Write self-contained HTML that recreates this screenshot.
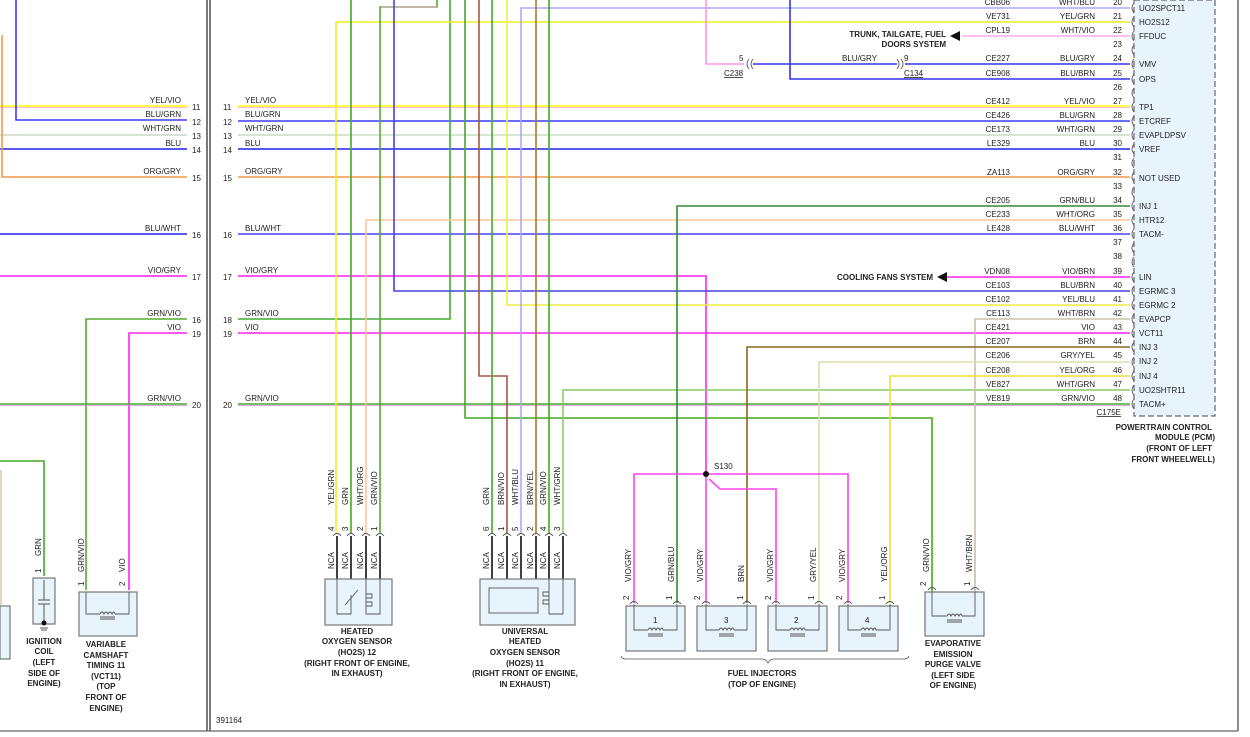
<!DOCTYPE html>
<html><head><meta charset="utf-8"><style>
html,body{margin:0;padding:0;background:#fff;}
svg{display:block;}
text{font-family:"Liberation Sans",sans-serif;font-size:8px;fill:#222;}
.b{font-weight:bold;font-size:8px;}
.w{fill:none;stroke-width:1.6;}
.c{fill:none;stroke:#555;stroke-width:0.9;}
.box{fill:#e8f4fb;stroke:#777;stroke-width:1.2;}
</style></head><body>
<svg width="1250" height="737" viewBox="0 0 1250 737" xmlns="http://www.w3.org/2000/svg">
<!-- frame -->
<line x1="207" y1="0" x2="207" y2="731" stroke="#222" stroke-width="1.2"/>
<line x1="210" y1="0" x2="210" y2="731" stroke="#222" stroke-width="1.2"/>
<line x1="1238" y1="0" x2="1238" y2="731" stroke="#444" stroke-width="1.2"/>
<line x1="0" y1="731" x2="1238" y2="731" stroke="#666" stroke-width="1.2"/>

<!-- PCM box -->
<rect x="1134" y="0" width="81" height="416" fill="#e8f4fc" stroke="#666" stroke-width="1.2" stroke-dasharray="6,3"/>

<!-- LEFT PANE wires -->
<g class="w">
<path d="M0 106H187" stroke="#ffff00"/><path d="M0 107.5H187" stroke="#ff9fd0" stroke-width="0.8"/>
<path d="M16 0V120H187" stroke="#3a3aff"/>
<path d="M0 135H187" stroke="#c8d8c8"/>
<path d="M0 149H187" stroke="#2222ee"/>
<path d="M2 35V177H187" stroke="#f39a4a"/>
<path d="M0 234H187" stroke="#2222ee"/>
<path d="M0 276H187" stroke="#ff22ee"/>
<path d="M187 319H86V590" stroke="#55aa33"/>
<path d="M187 333H129V590" stroke="#ff22ee"/>
<path d="M0 404H187" stroke="#44aa33"/><path d="M0 405.5H187" stroke="#dd88cc" stroke-width="0.7"/>
<path d="M0 461H44V576" stroke="#44aa22"/>
<path d="M1 470V605" stroke="#d8ccaa"/>
</g>
<g text-anchor="end">
<text x="181" y="103">YEL/VIO</text><text x="181" y="117">BLU/GRN</text><text x="181" y="131">WHT/GRN</text><text x="181" y="146">BLU</text><text x="181" y="174">ORG/GRY</text><text x="181" y="231">BLU/WHT</text><text x="181" y="273">VIO/GRY</text><text x="181" y="316">GRN/VIO</text><text x="181" y="330">VIO</text><text x="181" y="401">GRN/VIO</text>
</g>
<g><text x="192" y="110">11</text><text x="192" y="125">12</text><text x="192" y="139">13</text><text x="192" y="153">14</text><text x="192" y="181">15</text><text x="192" y="238">16</text><text x="192" y="280">17</text><text x="192" y="323">16</text><text x="192" y="337">19</text><text x="192" y="408">20</text>
<text x="223" y="110">11</text><text x="223" y="125">12</text><text x="223" y="139">13</text><text x="223" y="153">14</text><text x="223" y="181">15</text><text x="223" y="238">16</text><text x="223" y="280">17</text><text x="223" y="323">18</text><text x="223" y="337">19</text><text x="223" y="408">20</text>
<text x="245" y="103">YEL/VIO</text><text x="245" y="117">BLU/GRN</text><text x="245" y="131">WHT/GRN</text><text x="245" y="146">BLU</text><text x="245" y="174">ORG/GRY</text><text x="245" y="231">BLU/WHT</text><text x="245" y="273">VIO/GRY</text><text x="245" y="316">GRN/VIO</text><text x="245" y="330">VIO</text><text x="245" y="401">GRN/VIO</text>
<text x="216" y="723">391164</text></g>

<!-- left components -->
<rect class="box" x="0" y="606" width="10" height="53"/>
<rect class="box" x="33" y="578" width="22" height="46"/>
<path d="M44 580V600M38 600H50M38 604H50M44 604V622" stroke="#555" fill="none"/>
<circle cx="44" cy="623" r="2.5" fill="#111"/>
<path d="M40 628H48M41 630H47" stroke="#555"/>
<rect class="box" x="79" y="592" width="58" height="44"/>
<path d="M86 592V614H100M129 592V614H115M100 614q2-4 4 0q2-4 4 0q2-4 4 0q2-4 3 0M100 617H115M100 619H115" class="c"/>
<g class="b" text-anchor="middle">
<text x="44" y="644">IGNITION</text><text x="44" y="654">COIL</text><text x="44" y="665">(LEFT</text><text x="44" y="676">SIDE OF</text><text x="44" y="686">ENGINE)</text>
<text x="106" y="647">VARIABLE</text><text x="106" y="658">CAMSHAFT</text><text x="106" y="668">TIMING 11</text><text x="106" y="679">(VCT11)</text><text x="106" y="689">(TOP</text><text x="106" y="700">FRONT OF</text><text x="106" y="711">ENGINE)</text>
</g>
<g>
<text transform="translate(41,556) rotate(-90)">GRN</text>
<text transform="translate(84,572) rotate(-90)">GRN/VIO</text>
<text transform="translate(125,572) rotate(-90)">VIO</text>
<text transform="translate(41,573) rotate(-90)">1</text>
<text transform="translate(84,586) rotate(-90)">1</text>
<text transform="translate(125,586) rotate(-90)">2</text>
</g>

<!-- RIGHT PANE horizontal wires -->
<g class="w">
<path d="M238 106H1130" stroke="#ffff00"/><path d="M238 107.5H1130" stroke="#ff9fd0" stroke-width="0.8"/>
<path d="M238 121H1130" stroke="#3a3aff"/>
<path d="M238 135H1130" stroke="#c8dcc4"/>
<path d="M238 149H1130" stroke="#2222ee"/>
<path d="M238 177H1130" stroke="#f39a4a"/>
<path d="M238 234H1130" stroke="#4444ff"/>
<path d="M238 276H706V474" stroke="#ff22ee"/>
<path d="M238 319H450V0" stroke="#44aa33"/>
<path d="M238 333H1130" stroke="#ff22ee"/>
<path d="M238 404H1130" stroke="#44aa33"/><path d="M238 405.5H1130" stroke="#dd88cc" stroke-width="0.7"/>
<!-- verticals -->
<path d="M336 533V22H1130" stroke="#eeee22"/>
<path d="M351 533V0" stroke="#44aa22"/>
<path d="M366 533V220H1130" stroke="#f8c89a"/>
<path d="M380 533V7H437V0" stroke="#55aa33"/>
<path d="M381 7H437" stroke="#ff99dd" stroke-width="0.8"/>
<path d="M394 0V291H1130" stroke="#4444dd"/>
<path d="M465 0V418H932V592" stroke="#44aa22"/>
<path d="M479 0V376H507V533" stroke="#aa5544"/>
<path d="M492 533V0" stroke="#44aa22"/>
<path d="M507 0V305H1130" stroke="#eeee44"/>
<path d="M521 533V8H1130" stroke="#aaaaff"/>
<path d="M536 533V0" stroke="#aa7722"/>
<path d="M549 533V0" stroke="#44aa22"/>
<path d="M563 533V390H1130" stroke="#88cc66"/>
<path d="M706 0V64H744" stroke="#ff99dd"/>
<path d="M753 64H897M905 64H1130" stroke="#3333ee"/>
<path d="M790 0V79H1130" stroke="#3333ee"/>
<path d="M962 36H1130" stroke="#ffaaee"/>
<path d="M947 277H1130" stroke="#ff22ee"/>
<path d="M677 603V206H1130" stroke="#338833"/>
<path d="M975 592V319H1130" stroke="#c8c0a8"/>
<path d="M747 603V347H1130" stroke="#886622"/>
<path d="M819 603V362H1130" stroke="#ddddaa"/>
<path d="M890 603V376H1130" stroke="#eedd33"/>
<path d="M634 603V474H848V603" stroke="#ff44ee"/>
<path d="M706 474V603" stroke="#ff44ee"/>
<path d="M709 479L720 489H776V603" stroke="#ff44ee"/>
</g>
<circle cx="706" cy="474" r="3" fill="#111"/>
<text x="714" y="469">S130</text>
<!-- arrows -->
<path d="M950 36l10-5v10z" fill="#111"/>
<path d="M937 277l10-5v10z" fill="#111"/>
<g class="b" text-anchor="end"><text x="946" y="37">TRUNK, TAILGATE, FUEL</text><text x="946" y="47">DOORS SYSTEM</text><text x="933" y="280">COOLING FANS SYSTEM</text></g>
<!-- C238/C134 -->
<path d="M749 59q-4 5 0 10M753 59q-4 5 0 10M897 59q4 5 0 10M901 59q4 5 0 10" class="c"/>
<text x="739" y="61">5</text><text x="904" y="61">9</text>
<text x="724" y="76" text-decoration="underline">C238</text><text x="904" y="76" text-decoration="underline">C134</text>
<text x="842" y="61">BLU/GRY</text>

<!-- PCM labels -->
<g text-anchor="end">
<text x="1010" y="5">CBB06</text><text x="1095" y="5">WHT/BLU</text><text x="1122" y="5">20</text>
<text x="1010" y="19">VE731</text><text x="1095" y="19">YEL/GRN</text><text x="1122" y="19">21</text>
<text x="1010" y="33">CPL19</text><text x="1095" y="33">WHT/VIO</text><text x="1122" y="33">22</text>
<text x="1122" y="47">23</text>
<text x="1010" y="61">CE227</text><text x="1095" y="61">BLU/GRY</text><text x="1122" y="61">24</text>
<text x="1010" y="76">CE908</text><text x="1095" y="76">BLU/BRN</text><text x="1122" y="76">25</text>
<text x="1122" y="90">26</text>
<text x="1010" y="104">CE412</text><text x="1095" y="104">YEL/VIO</text><text x="1122" y="104">27</text>
<text x="1010" y="118">CE426</text><text x="1095" y="118">BLU/GRN</text><text x="1122" y="118">28</text>
<text x="1010" y="132">CE173</text><text x="1095" y="132">WHT/GRN</text><text x="1122" y="132">29</text>
<text x="1010" y="146">LE329</text><text x="1095" y="146">BLU</text><text x="1122" y="146">30</text>
<text x="1122" y="160">31</text>
<text x="1010" y="175">ZA113</text><text x="1095" y="175">ORG/GRY</text><text x="1122" y="175">32</text>
<text x="1122" y="189">33</text>
<text x="1010" y="203">CE205</text><text x="1095" y="203">GRN/BLU</text><text x="1122" y="203">34</text>
<text x="1010" y="217">CE233</text><text x="1095" y="217">WHT/ORG</text><text x="1122" y="217">35</text>
<text x="1010" y="231">LE428</text><text x="1095" y="231">BLU/WHT</text><text x="1122" y="231">36</text>
<text x="1122" y="245">37</text><text x="1122" y="259">38</text>
<text x="1010" y="274">VDN08</text><text x="1095" y="274">VIO/BRN</text><text x="1122" y="274">39</text>
<text x="1010" y="288">CE103</text><text x="1095" y="288">BLU/BRN</text><text x="1122" y="288">40</text>
<text x="1010" y="302">CE102</text><text x="1095" y="302">YEL/BLU</text><text x="1122" y="302">41</text>
<text x="1010" y="316">CE113</text><text x="1095" y="316">WHT/BRN</text><text x="1122" y="316">42</text>
<text x="1010" y="330">CE421</text><text x="1095" y="330">VIO</text><text x="1122" y="330">43</text>
<text x="1010" y="344">CE207</text><text x="1095" y="344">BRN</text><text x="1122" y="344">44</text>
<text x="1010" y="358">CE206</text><text x="1095" y="358">GRY/YEL</text><text x="1122" y="358">45</text>
<text x="1010" y="373">CE208</text><text x="1095" y="373">YEL/ORG</text><text x="1122" y="373">46</text>
<text x="1010" y="387">VE827</text><text x="1095" y="387">WHT/GRN</text><text x="1122" y="387">47</text>
<text x="1010" y="401">VE819</text><text x="1095" y="401">GRN/VIO</text><text x="1122" y="401">48</text>
<text x="1121" y="415" text-decoration="underline">C175E</text>
</g>
<g>
<text x="1139" y="11">UO2SPCT11</text><text x="1139" y="25">HO2S12</text><text x="1139" y="39">FFDUC</text><text x="1139" y="67">VMV</text><text x="1139" y="82">OPS</text><text x="1139" y="110">TP1</text><text x="1139" y="124">ETCREF</text><text x="1139" y="138">EVAPLDPSV</text><text x="1139" y="152">VREF</text><text x="1139" y="181">NOT USED</text><text x="1139" y="209">INJ 1</text><text x="1139" y="223">HTR12</text><text x="1139" y="237">TACM-</text><text x="1139" y="280">LIN</text><text x="1139" y="294">EGRMC 3</text><text x="1139" y="308">EGRMC 2</text><text x="1139" y="322">EVAPCP</text><text x="1139" y="336">VCT11</text><text x="1139" y="350">INJ 3</text><text x="1139" y="364">INJ 2</text><text x="1139" y="379">INJ 4</text><text x="1139" y="393">UO2SHTR11</text><text x="1139" y="407">TACM+</text>
</g>
<path class="c" d="M1134 3q-4 5 0 10M1134 17q-4 5 0 10M1134 31q-4 5 0 10M1134 45q-4 5 0 10M1134 59q-4 5 0 10M1134 74q-4 5 0 10M1134 88q-4 5 0 10M1134 102q-4 5 0 10M1134 116q-4 5 0 10M1134 130q-4 5 0 10M1134 144q-4 5 0 10M1134 158q-4 5 0 10M1134 172q-4 5 0 10M1134 187q-4 5 0 10M1134 201q-4 5 0 10M1134 215q-4 5 0 10M1134 229q-4 5 0 10M1134 243q-4 5 0 10M1134 257q-4 5 0 10M1134 272q-4 5 0 10M1134 286q-4 5 0 10M1134 300q-4 5 0 10M1134 314q-4 5 0 10M1134 328q-4 5 0 10M1134 342q-4 5 0 10M1134 357q-4 5 0 10M1134 371q-4 5 0 10M1134 385q-4 5 0 10M1134 399q-4 5 0 10"/>
<g class="b" text-anchor="end"><text x="1212" y="430">POWERTRAIN CONTROL</text><text x="1215" y="440">MODULE (PCM)</text><text x="1212" y="451">(FRONT OF LEFT</text><text x="1215" y="462">FRONT WHEELWELL)</text></g>

<!-- HO2S 12 -->
<g stroke="#111" stroke-width="1.6"><path d="M337 536V579M351 536V579M366 536V579M380 536V579M492 536V579M507 536V579M521 536V579M536 536V579M549 536V579M563 536V579"/></g>
<path class="c" d="M333 536q4-5 8 0M347 536q4-5 8 0M362 536q4-5 8 0M376 536q4-5 8 0M488 536q4-5 8 0M503 536q4-5 8 0M517 536q4-5 8 0M532 536q4-5 8 0M545 536q4-5 8 0M559 536q4-5 8 0"/>
<rect class="box" x="325" y="579" width="67" height="46"/>
<path class="c" d="M337 579V614H351V595M345 605L358 590M366 579V614H380V579M366 594h6v4h-6v4h6v4h-6"/>
<rect class="box" x="480" y="579" width="95" height="46"/>
<rect x="489" y="588" width="49" height="25" fill="#e8f4fb" stroke="#666"/>
<path class="c" d="M549 579V614H563V579M549 592h-6v4h6v4h-6v4h6"/>
<g>
<text transform="translate(334,505) rotate(-90)">YEL/GRN</text><text transform="translate(348,505) rotate(-90)">GRN</text><text transform="translate(363,505) rotate(-90)">WHT/ORG</text><text transform="translate(377,505) rotate(-90)">GRN/VIO</text>
<text transform="translate(334,531) rotate(-90)">4</text><text transform="translate(348,531) rotate(-90)">3</text><text transform="translate(363,531) rotate(-90)">2</text><text transform="translate(377,531) rotate(-90)">1</text>
<text transform="translate(334,569) rotate(-90)">NCA</text><text transform="translate(348,569) rotate(-90)">NCA</text><text transform="translate(363,569) rotate(-90)">NCA</text><text transform="translate(377,569) rotate(-90)">NCA</text>
<text transform="translate(489,505) rotate(-90)">GRN</text><text transform="translate(504,505) rotate(-90)">BRN/VIO</text><text transform="translate(518,505) rotate(-90)">WHT/BLU</text><text transform="translate(533,505) rotate(-90)">BRN/YEL</text><text transform="translate(546,505) rotate(-90)">GRN/VIO</text><text transform="translate(560,505) rotate(-90)">WHT/GRN</text>
<text transform="translate(489,531) rotate(-90)" fill="#c60">6</text><text transform="translate(504,531) rotate(-90)">1</text><text transform="translate(518,531) rotate(-90)">5</text><text transform="translate(533,531) rotate(-90)">2</text><text transform="translate(546,531) rotate(-90)">4</text><text transform="translate(560,531) rotate(-90)">3</text>
<text transform="translate(489,569) rotate(-90)">NCA</text><text transform="translate(504,569) rotate(-90)">NCA</text><text transform="translate(518,569) rotate(-90)">NCA</text><text transform="translate(533,569) rotate(-90)">NCA</text><text transform="translate(546,569) rotate(-90)">NCA</text><text transform="translate(560,569) rotate(-90)">NCA</text>
</g>
<g class="b" text-anchor="middle">
<text x="357" y="634">HEATED</text><text x="357" y="644">OXYGEN SENSOR</text><text x="357" y="655">(HO2S) 12</text><text x="357" y="666">(RIGHT FRONT OF ENGINE,</text><text x="357" y="676">IN EXHAUST)</text>
<text x="525" y="634">UNIVERSAL</text><text x="525" y="644">HEATED</text><text x="525" y="655">OXYGEN SENSOR</text><text x="525" y="666">(HO2S) 11</text><text x="525" y="676">(RIGHT FRONT OF ENGINE,</text><text x="525" y="687">IN EXHAUST)</text>
</g>

<!-- injectors -->
<g>
<rect class="box" x="626" y="606" width="59" height="45"/><rect class="box" x="697" y="606" width="59" height="45"/><rect class="box" x="768" y="606" width="59" height="45"/><rect class="box" x="839" y="606" width="59" height="45"/>
<rect class="box" x="925" y="592" width="59" height="44"/>
<path class="c" d="M634 604V630H648M677 604V630H663M648 630q2-4 4 0q2-4 4 0q2-4 4 0q2-4 3 0M648 634H663M648 636H663"/>
<path class="c" d="M706 604V630H719M747 604V630H734M719 630q2-4 4 0q2-4 4 0q2-4 4 0q2-4 3 0M719 634H734M719 636H734"/>
<path class="c" d="M776 604V630H790M819 604V630H805M790 630q2-4 4 0q2-4 4 0q2-4 4 0q2-4 3 0M790 634H805M790 636H805"/>
<path class="c" d="M848 604V630H861M890 604V630H876M861 630q2-4 4 0q2-4 4 0q2-4 4 0q2-4 3 0M861 634H876M861 636H876"/>
<path class="c" d="M932 592V616H947M975 592V616H962M947 616q2-4 4 0q2-4 4 0q2-4 4 0q2-4 3 0M947 620H962M947 622H962"/>
<path class="c" d="M630 604q4-5 8 0M673 604q4-5 8 0M702 604q4-5 8 0M743 604q4-5 8 0M772 604q4-5 8 0M815 604q4-5 8 0M844 604q4-5 8 0M886 604q4-5 8 0M928 590q4-5 8 0M971 590q4-5 8 0"/>
<text x="653" y="623">1</text><text x="724" y="623">3</text><text x="794" y="623">2</text><text x="865" y="623">4</text>
<path d="M621 656q1 3 5 3H762q4 0 6 4q2-4 6-4H904q4 0 5-3" fill="none" stroke="#555" stroke-width="0.8"/>
<text transform="translate(631,582) rotate(-90)">VIO/GRY</text><text transform="translate(674,582) rotate(-90)">GRN/BLU</text>
<text transform="translate(703,582) rotate(-90)">VIO/GRY</text><text transform="translate(744,582) rotate(-90)">BRN</text>
<text transform="translate(773,582) rotate(-90)">VIO/GRY</text><text transform="translate(816,582) rotate(-90)">GRY/YEL</text>
<text transform="translate(845,582) rotate(-90)">VIO/GRY</text><text transform="translate(887,582) rotate(-90)">YEL/ORG</text>
<text transform="translate(929,572) rotate(-90)">GRN/VIO</text><text transform="translate(972,572) rotate(-90)">WHT/BRN</text>
<text transform="translate(629,600) rotate(-90)">2</text><text transform="translate(672,600) rotate(-90)">1</text><text transform="translate(700,600) rotate(-90)">2</text><text transform="translate(743,600) rotate(-90)">1</text><text transform="translate(771,600) rotate(-90)">2</text><text transform="translate(814,600) rotate(-90)">1</text><text transform="translate(842,600) rotate(-90)">2</text><text transform="translate(885,600) rotate(-90)">1</text>
<text transform="translate(926,586) rotate(-90)">2</text><text transform="translate(970,586) rotate(-90)">1</text>
</g>
<g class="b" text-anchor="middle">
<text x="762" y="676">FUEL INJECTORS</text><text x="762" y="687">(TOP OF ENGINE)</text>
<text x="953" y="646">EVAPORATIVE</text><text x="953" y="657">EMISSION</text><text x="953" y="667">PURGE VALVE</text><text x="953" y="678">(LEFT SIDE</text><text x="953" y="688">OF ENGINE)</text>
</g>
</svg>
</body></html>
